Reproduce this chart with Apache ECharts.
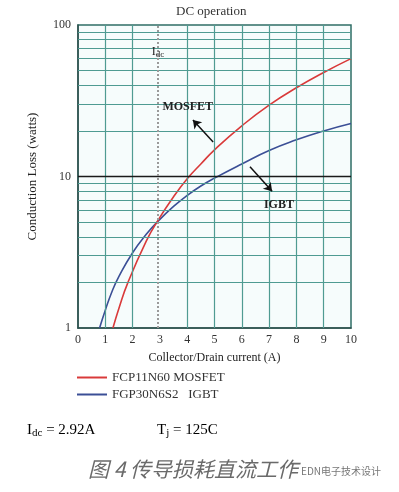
<!DOCTYPE html>
<html>
<head>
<meta charset="utf-8">
<script src="https://cdn.jsdelivr.net/npm/echarts@6/dist/echarts.min.js"></script>
<style>
  html, body { margin: 0; padding: 0; background: #ffffff; }
  #chart { width: 399px; height: 492px; }
</style>
</head>
<body>
<div id="chart"></div>
<script>
// ---- data ----
var mosfetCurrent = [1.28, 1.5, 1.83, 2.5, 2.92, 3.5, 4.03, 4.5, 5, 6, 7, 8, 9, 10];
var mosfetLoss    = [1.0, 1.35, 2.0, 3.75, 5.1, 7.35, 9.8, 12.1, 15, 21.6, 29.6, 38.5, 48.6, 60];
var igbtCurrent   = [0.79, 1.0, 1.25, 1.5, 2.0, 2.5, 2.92, 3.5, 4.0, 4.5, 5.0, 6, 7, 8, 9, 10];
var igbtLoss      = [1.0, 1.31, 1.75, 2.19, 3.14, 4.15, 5.05, 6.35, 7.5, 8.65, 9.75, 12.1, 14.85, 17.45, 20.0, 22.4];
var xGridValues   = [1, 2, 4, 5, 6, 7, 8, 9];
var yMinorValues  = [2, 3, 4, 5, 6, 7, 8, 9, 20, 30, 40, 50, 60, 70, 80, 90];
var idcValue = 2.92;
var seriesNames = ['FCP11N60 MOSFET', 'FGP30N6S2   IGBT'];
var titleText = 'DC operation';
var xAxisName = 'Collector/Drain current (A)';
var yAxisName = 'Conduction Loss (watts)';
var captionText = '图 4 传导损耗直流工作';
var watermarkText = 'EDN电子技术设计';

function pairs(xs, ys) { return xs.map(function (x, i) { return [x, ys[i]]; }); }

var serif = '"Liberation Serif", "DejaVu Serif", serif';
var teal = '#4f9b92';

var chart = echarts.init(document.getElementById('chart'), null, { renderer: 'canvas' });

var option = {
  animation: false,
  backgroundColor: '#ffffff',
  grid: {
    left: 78, right: 48, top: 25, bottom: 164,
    show: true, backgroundColor: '#f6fcfc',
    borderColor: '#2f6d66', borderWidth: 1.5
  },
  xAxis: {
    type: 'value', min: 0, max: 10, interval: 1,
    name: xAxisName, nameLocation: 'middle', nameGap: 24,
    nameTextStyle: { fontFamily: serif, fontSize: 12, color: '#222' },
    axisLine: { show: true, lineStyle: { color: '#2f4f4c', width: 1.5 } },
    axisTick: { show: false },
    splitLine: { show: false },
    axisLabel: { fontFamily: serif, fontSize: 12, color: '#333', margin: 6 }
  },
  yAxis: {
    type: 'log', logBase: 10, min: 1, max: 100,
    name: yAxisName, nameLocation: 'middle', nameGap: 39,
    nameTextStyle: { fontFamily: serif, fontSize: 13, color: '#222' },
    axisLine: { show: true, lineStyle: { color: '#2f4f4c', width: 1.5 } },
    axisTick: { show: false },
    splitLine: { show: false },
    minorSplitLine: { show: false },
    axisLabel: { fontFamily: serif, fontSize: 12, color: '#333', margin: 7 }
  },
  legend: {
    data: seriesNames,
    orient: 'vertical', left: 77, top: 371, padding: 0,
    icon: 'rect', itemWidth: 30, itemHeight: 2, itemGap: 4,
    textStyle: { fontFamily: serif, fontSize: 13, color: '#333' }
  },
  graphic: [
    { type: 'text', left: 176, top: 5,
      style: { text: titleText, font: '13px ' + serif, fill: '#333' } },
    { type: 'text', left: 27, top: 423,
      style: { text: '{a|I}{s|dc}{a| = 2.92A}',
        rich: { a: { fontFamily: serif, fontSize: 15, color: '#333' },
                s: { fontFamily: serif, fontSize: 11, color: '#333', padding: [6, 0, 0, 0] } } } },
    { type: 'text', left: 157, top: 423,
      style: { text: '{a|T}{s|j}{a| = 125C}',
        rich: { a: { fontFamily: serif, fontSize: 15, color: '#333' },
                s: { fontFamily: serif, fontSize: 11, color: '#333', padding: [6, 0, 0, 0] } } } },
    { type: 'text', left: 88, top: 459, z: 10,
      style: { text: captionText, font: 'italic 21px "Noto Sans CJK SC"', fill: '#6a6a6a' } },
    { type: 'text', left: 300, top: 465, z: 11,
      style: { text: watermarkText, font: '10px "Noto Sans CJK SC"', fill: '#777',
               backgroundColor: 'rgba(255,255,255,0.75)', padding: [1, 1, 1, 1] } }
  ],
  series: [
    {
      name: 'grid', type: 'line', data: [], z: 1, silent: true,
      markLine: {
        silent: true, symbol: 'none', animation: false,
        label: { show: false },
        data: xGridValues.map(function (v) { return { xAxis: v, lineStyle: { color: teal, width: 1.2, type: 'solid' } }; })
          .concat(yMinorValues.map(function (v) { return { yAxis: v, lineStyle: { color: teal, width: 1.2, type: 'solid' } }; }))
          .concat([{ yAxis: 10, lineStyle: { color: '#1a1a1a', width: 1.3, type: 'solid' } }])
          .concat([{ xAxis: idcValue, lineStyle: { color: '#9a9a9a', width: 2, type: [2, 2] } }])
      }
    },
    {
      name: seriesNames[0], type: 'line', smooth: true, showSymbol: false, z: 4,
      color: '#d93a3a',
      lineStyle: { color: '#d93a3a', width: 1.6 },
      data: pairs(mosfetCurrent, mosfetLoss),
      markLine: {
        silent: true, symbol: ['none', 'arrow'], symbolSize: 8,
        label: { show: false },
        lineStyle: { color: '#111', width: 1.5, type: 'solid' },
        data: [[{ coord: [4.95, 16.9] }, { coord: [4.21, 23.6] }]]
      },
      markPoint: {
        silent: true, symbolSize: 0,
        label: { show: true, position: 'inside', fontFamily: serif, fontWeight: 'bold', fontSize: 12, color: '#222' },
        data: [
          { coord: [4.02, 28.8], value: 'MOSFET', label: { formatter: 'MOSFET' } },
          { coord: [2.93, 66.4], value: 'Idc', label: {
              formatter: '{a|I}{s|dc}', fontWeight: 'normal',
              rich: { a: { fontFamily: serif, fontSize: 12, color: '#222' },
                      s: { fontFamily: serif, fontSize: 9, color: '#222', padding: [5, 0, 0, 0] } } } }
        ]
      }
    },
    {
      name: seriesNames[1], type: 'line', smooth: true, showSymbol: false, z: 3,
      color: '#3b4f96',
      lineStyle: { color: '#3b4f96', width: 1.6 },
      data: pairs(igbtCurrent, igbtLoss),
      markLine: {
        silent: true, symbol: ['none', 'arrow'], symbolSize: 8,
        label: { show: false },
        lineStyle: { color: '#111', width: 1.5, type: 'solid' },
        data: [[{ coord: [6.30, 11.6] }, { coord: [7.11, 8.0] }]]
      },
      markPoint: {
        silent: true, symbolSize: 0,
        label: { show: true, position: 'inside', fontFamily: serif, fontWeight: 'bold', fontSize: 12, color: '#222' },
        data: [{ coord: [7.36, 6.5], value: 'IGBT', label: { formatter: 'IGBT' } }]
      }
    }
  ]
};

chart.setOption(option);
</script>
</body>
</html>
